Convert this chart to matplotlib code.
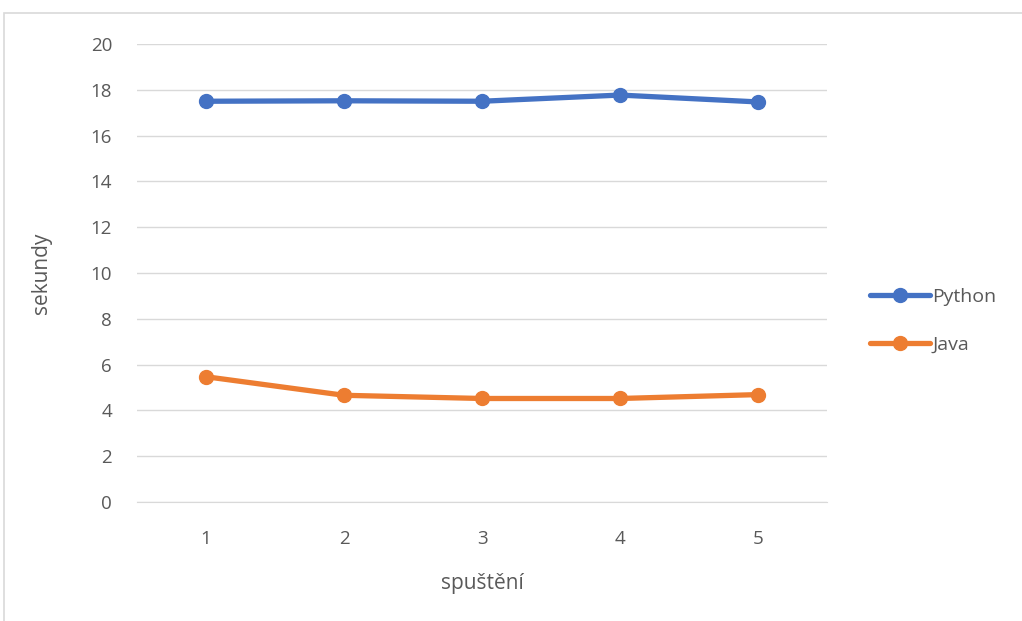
import matplotlib
matplotlib.use("Agg")
import matplotlib.pyplot as plt
from matplotlib.patches import Rectangle

runs = [1, 2, 3, 4, 5]
python_times = [17.5, 17.52, 17.5, 17.77, 17.47]
java_times = [5.47, 4.66, 4.52, 4.52, 4.69]
yticks = [0, 2, 4, 6, 8, 10, 12, 14, 16, 18, 20]

blue = "#4472C4"
orange = "#ED7D31"
gray_text = "#595959"
grid = "#D9D9D9"

plt.rcParams['font.family'] = ['Open Sans', 'DejaVu Sans']

fig = plt.figure(figsize=(10.22, 6.21), dpi=100)
fig.patches.append(Rectangle((4/1022, -0.1), 1.2, 1 - 13/621 + 0.1,
                             transform=fig.transFigure, fill=False,
                             edgecolor=grid, linewidth=1.2))

ax = fig.add_axes([137/1022, 1 - 502/621, 690/1022, 458/621])
ax.plot(runs, python_times, color=blue, linewidth=3.8, marker='o', markersize=10,
        solid_capstyle='round', label='Python', zorder=3)
ax.plot(runs, java_times, color=orange, linewidth=3.8, marker='o', markersize=10,
        solid_capstyle='round', label='Java', zorder=3)

ax.set_xlim(0.5, 5.5)
ax.set_ylim(0, 20)
ax.set_yticks(yticks)
ax.set_xticks(runs)
ax.set_xticklabels([str(r) for r in runs])
ax.grid(axis='y', color=grid, linewidth=1)
ax.set_axisbelow(True)
for s in ['top', 'right', 'left']:
    ax.spines[s].set_visible(False)
ax.spines['bottom'].set_color(grid)
ax.tick_params(axis='both', length=0, labelsize=13.5, colors=gray_text)
ax.tick_params(axis='y', pad=18)
ax.tick_params(axis='x', pad=20)
ax.set_ylabel('sekundy', fontsize=15, color=gray_text, labelpad=28)
ax.set_xlabel('spuštění', fontsize=15, color=gray_text, labelpad=18)

leg = ax.legend(loc='center left', bbox_to_anchor=((870 - 137) / 690, (502 - 321) / 458),
                frameon=False, fontsize=14, handlelength=3.1, handletextpad=0.1,
                labelspacing=1.55, borderpad=0, borderaxespad=0,
                labelcolor=gray_text)

fig.savefig("out.png", dpi=100, facecolor='white')
